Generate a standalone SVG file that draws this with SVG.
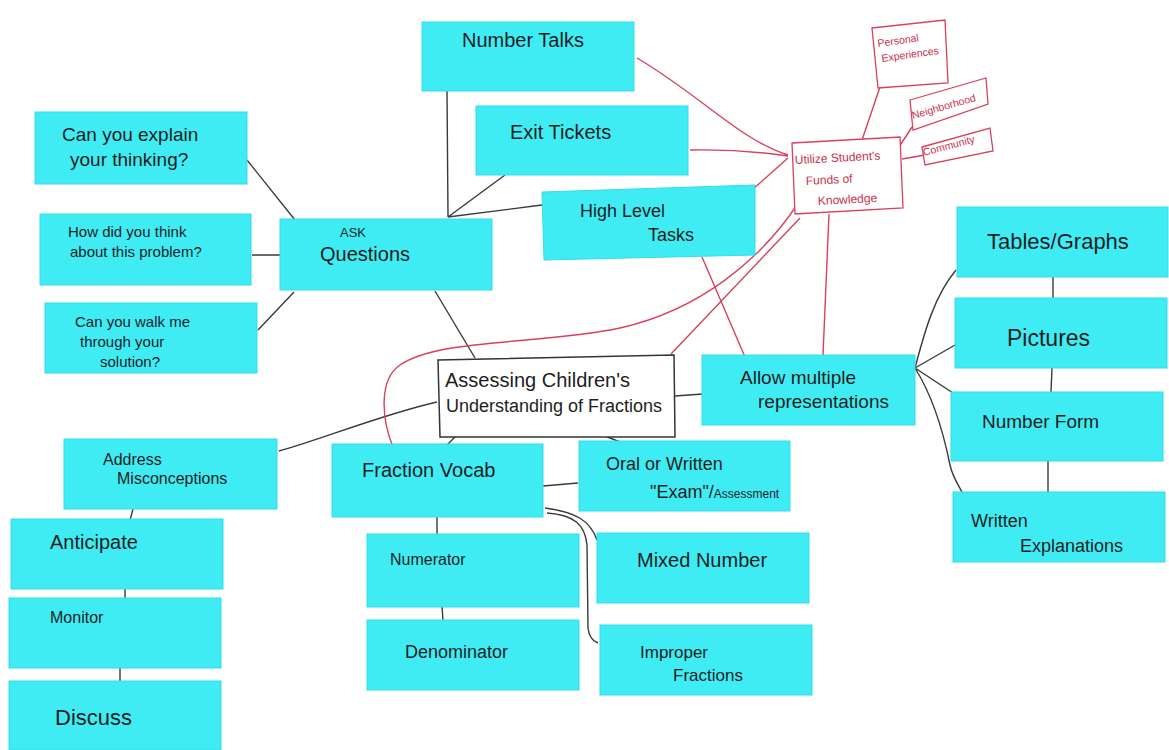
<svg xmlns="http://www.w3.org/2000/svg" width="1169" height="750" viewBox="0 0 1169 750">
<style>
.n{fill:#40ECF4;stroke:#34dcea;stroke-width:1}
.w{fill:#fff;stroke:#333;stroke-width:1.5}
.p{fill:#fff;stroke:#d8405e;stroke-width:1.3}
.t{font-family:"Liberation Sans","DejaVu Sans",sans-serif;fill:#1e1e1e}
.pt{font-family:"Liberation Sans","DejaVu Sans",sans-serif;fill:#c8304e}
.k{fill:none;stroke:#3a3a3a;stroke-width:1.4}
.r{fill:none;stroke:#d8405e;stroke-width:1.4}
</style>
<rect width="1169" height="750" fill="#fff"/>
<g id="connectors">
<path class="k" d="M447,91 L448,217 M505,175 L448,217 M542,205 L448,217"/>
<path class="k" d="M247,160 L295,220 M252,255 L280,255 M258,330 L294,292"/>
<path class="k" d="M435,291 L475,358"/>
<path class="k" d="M437,402 C380,415 320,440 279,451"/>
<path class="k" d="M455,437 L447,445 M605,436 L620,442 M675,396 L703,394 M543,486 L578,483"/>
<path class="k" d="M437,517 L437,535 M442,607 L443,620"/>
<path class="k" d="M545,508 C575,512 590,520 597,540"/>
<path class="k" d="M547,513 C575,515 585,525 587,545 L588,628 C589,637 592,641 598,643"/>
<path class="k" d="M133,509 L130,520 M125,589 L125,598 M120,668 L120,683"/>
<path class="k" d="M915,368 C925,330 935,295 956,270 M915,368 L955,345 M915,368 L953,393 M915,368 C935,400 945,440 950,465 C952,475 958,485 962,492"/>
<path class="k" d="M1053,277 L1053,298 M1052,368 L1051,392 M1048,461 L1048,492"/>
<path class="r" d="M637,58 C700,95 740,140 788,155 M690,150 C730,149 760,152 788,156 M752,190 L788,158"/>
<path class="r" d="M797,205 C760,260 700,310 620,328 C540,345 440,338 400,365 C378,380 382,420 393,447"/>
<path class="r" d="M800,218 L671,354 M702,257 L745,357 M829,214 L823,355"/>
<path class="r" d="M862,140 L880,87 M899,147 L912,127 M902,159 L925,155"/>
</g>
<g id="number-talks"><rect class="n" x="422" y="22" width="212" height="69"/><text class="t" x="462" y="47" font-size="20">Number Talks</text></g>
<g id="exit-tickets"><rect class="n" x="476" y="106" width="212" height="69"/><text class="t" x="510" y="139" font-size="20">Exit Tickets</text></g>
<g id="high-level-tasks"><polygon class="n" points="542,192 755,185 755,255 544,260"/><text class="t" x="580" y="217" font-size="18">High Level</text><text class="t" x="648" y="241" font-size="18">Tasks</text></g>
<g id="explain"><rect class="n" x="35" y="112" width="212" height="72"/><text class="t" x="62" y="141" font-size="19">Can you explain</text><text class="t" x="70" y="166" font-size="19">your thinking?</text></g>
<g id="how-think"><rect class="n" x="40" y="214" width="211" height="71"/><text class="t" x="68" y="237" font-size="15">How did you think</text><text class="t" x="70" y="257" font-size="15">about this problem?</text></g>
<g id="walk-me"><rect class="n" x="45" y="303" width="212" height="70"/><text class="t" x="75" y="327" font-size="15">Can you walk me</text><text class="t" x="80" y="347" font-size="15">through your</text><text class="t" x="100" y="367" font-size="15">solution?</text></g>
<g id="ask-questions"><rect class="n" x="280" y="219" width="212" height="71"/><text class="t" x="340" y="237" font-size="13">ASK</text><text class="t" x="320" y="261" font-size="20">Questions</text></g>
<g id="assessing"><polygon class="w" points="438,360 674,355 675,437 440,437"/><text class="t" x="445" y="387" font-size="20">Assessing Children's</text><text class="t" x="446" y="412" font-size="18">Understanding of Fractions</text></g>
<g id="allow-multiple"><rect class="n" x="702" y="355" width="213" height="70"/><text class="t" x="740" y="384" font-size="19">Allow multiple</text><text class="t" x="758" y="408" font-size="19">representations</text></g>
<g id="utilize"><polygon class="p" points="792,143 900,137 903,208 795,214"/><text class="pt" x="795" y="164" font-size="12" transform="rotate(-3 795 164)">Utilize Student's</text><text class="pt" x="806" y="185" font-size="12" transform="rotate(-3 806 185)">Funds of</text><text class="pt" x="818" y="205" font-size="12" transform="rotate(-3 818 205)">Knowledge</text></g>
<g id="personal-experiences"><polygon class="p" points="872,28 945,20 948,83 878,88"/><text class="pt" x="878" y="47" font-size="10.5" transform="rotate(-8 878 47)">Personal</text><text class="pt" x="882" y="62" font-size="10.5" transform="rotate(-8 882 62)">Experiences</text></g>
<g id="neighborhood"><polygon class="p" points="910,100 986,78 988,104 913,130"/><text class="pt" x="913" y="119" font-size="10.5" transform="rotate(-16 913 119)">Neighborhood</text></g>
<g id="community"><polygon class="p" points="922,147 990,128 993,151 925,165"/><text class="pt" x="924" y="156" font-size="10.5" transform="rotate(-15 924 156)">Community</text></g>
<g id="tables-graphs"><rect class="n" x="957" y="207" width="211" height="70"/><text class="t" x="987" y="249" font-size="22">Tables/Graphs</text></g>
<g id="pictures"><rect class="n" x="955" y="298" width="212" height="70"/><text class="t" x="1007" y="346" font-size="23">Pictures</text></g>
<g id="number-form"><rect class="n" x="951" y="392" width="212" height="69"/><text class="t" x="982" y="428" font-size="19">Number Form</text></g>
<g id="written-explanations"><rect class="n" x="953" y="492" width="212" height="70"/><text class="t" x="971" y="527" font-size="18">Written</text><text class="t" x="1020" y="552" font-size="18">Explanations</text></g>
<g id="address-misconceptions"><rect class="n" x="64" y="439" width="213" height="70"/><text class="t" x="103" y="465" font-size="16">Address</text><text class="t" x="117" y="484" font-size="16">Misconceptions</text></g>
<g id="anticipate"><rect class="n" x="11" y="519" width="212" height="70"/><text class="t" x="50" y="549" font-size="20">Anticipate</text></g>
<g id="monitor"><rect class="n" x="9" y="598" width="212" height="70"/><text class="t" x="50" y="623" font-size="16">Monitor</text></g>
<g id="discuss"><rect class="n" x="9" y="681" width="212" height="69"/><text class="t" x="55" y="725" font-size="22">Discuss</text></g>
<g id="fraction-vocab"><rect class="n" x="332" y="444" width="211" height="73"/><text class="t" x="362" y="477" font-size="20">Fraction Vocab</text></g>
<g id="oral-written"><rect class="n" x="579" y="441" width="211" height="70"/><text class="t" x="606" y="470" font-size="18">Oral or Written</text><text class="t" x="650" y="498" font-size="18">"Exam"/<tspan font-size="12">Assessment</tspan></text></g>
<g id="numerator"><rect class="n" x="367" y="534" width="212" height="73"/><text class="t" x="390" y="565" font-size="16">Numerator</text></g>
<g id="denominator"><rect class="n" x="367" y="620" width="212" height="70"/><text class="t" x="405" y="658" font-size="18">Denominator</text></g>
<g id="mixed-number"><rect class="n" x="597" y="533" width="212" height="70"/><text class="t" x="637" y="567" font-size="20">Mixed Number</text></g>
<g id="improper-fractions"><rect class="n" x="600" y="625" width="212" height="70"/><text class="t" x="640" y="658" font-size="17">Improper</text><text class="t" x="673" y="681" font-size="17">Fractions</text></g>
</svg>
